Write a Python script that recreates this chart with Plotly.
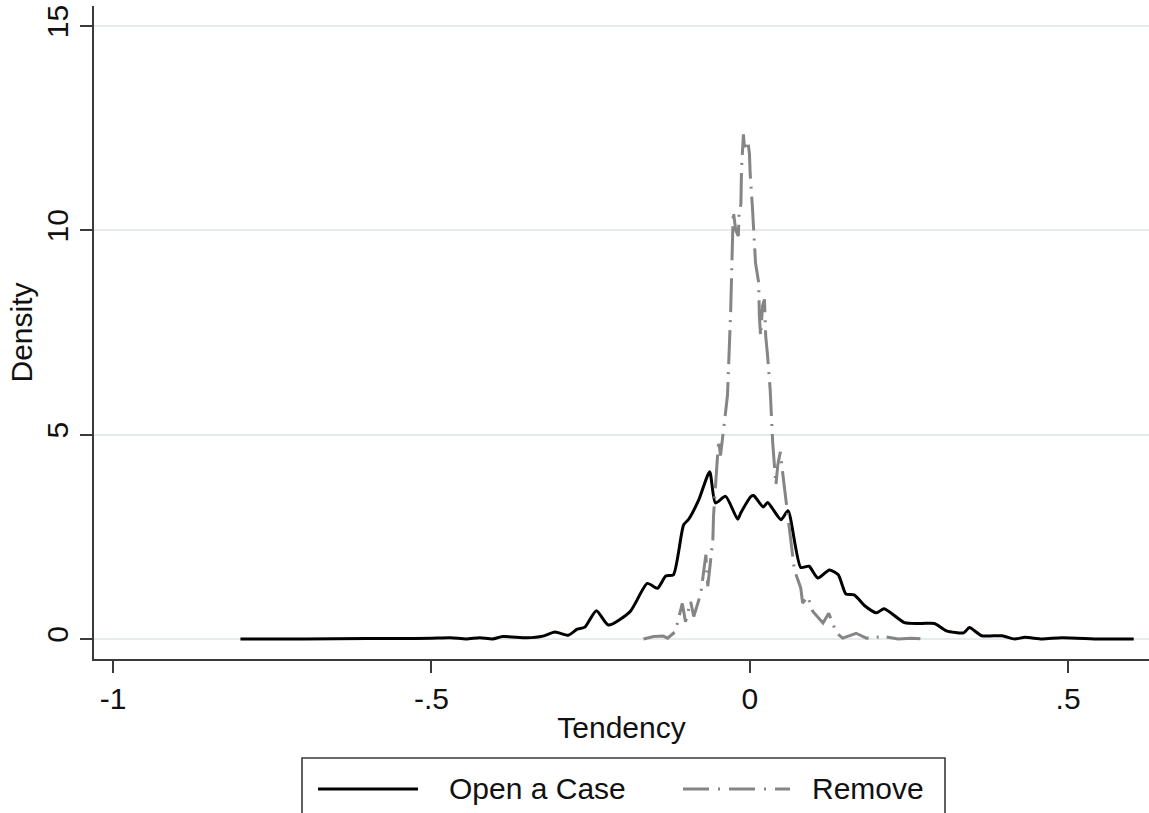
import plotly.graph_objects as go

# ---- data ----
open_x = [-0.800, -0.700, -0.600, -0.550, -0.500, -0.470, -0.445, -0.424, -0.404, -0.388,
          -0.350, -0.325, -0.306, -0.285, -0.271, -0.259, -0.241, -0.222, -0.188, -0.161,
          -0.145, -0.132, -0.120, -0.104, -0.096, -0.080, -0.063, -0.054, -0.038, -0.019,
          -0.014, 0.002, 0.006, 0.021, 0.028, 0.049, 0.060, 0.080, 0.093, 0.107,
          0.125, 0.139, 0.151, 0.164, 0.180, 0.199, 0.211, 0.243, 0.270, 0.290,
          0.309, 0.336, 0.345, 0.364, 0.396, 0.416, 0.432, 0.459, 0.490, 0.550,
          0.603]
open_y = [0.00, 0.00, 0.01, 0.01, 0.02, 0.03, 0.00, 0.03, 0.00, 0.06,
          0.03, 0.07, 0.17, 0.09, 0.24, 0.29, 0.69, 0.34, 0.67, 1.36,
          1.24, 1.54, 1.57, 2.79, 2.93, 3.41, 4.09, 3.33, 3.49, 2.93,
          3.09, 3.49, 3.51, 3.23, 3.34, 2.92, 3.14, 1.75, 1.78, 1.49,
          1.69, 1.57, 1.10, 1.08, 0.82, 0.64, 0.74, 0.40, 0.38, 0.38,
          0.20, 0.15, 0.28, 0.08, 0.08, 0.00, 0.04, 0.00, 0.03, 0.00,
          0.00]

remove_x = [-0.167, -0.151, -0.136, -0.129, -0.117, -0.106, -0.101, -0.093, -0.088, -0.077,
            -0.069, -0.066, -0.058, -0.057, -0.049, -0.046, -0.041, -0.035, -0.030, -0.027,
            -0.026, -0.022, -0.018, -0.017, -0.014, -0.013, -0.010, -0.008, -0.003, -0.0005,
            0.0005, 0.004, 0.009, 0.014, 0.015, 0.017, 0.020, 0.023, 0.025, 0.028,
            0.032, 0.036, 0.038, 0.041, 0.044, 0.048, 0.052, 0.059, 0.065, 0.070,
            0.080, 0.083, 0.091, 0.099, 0.115, 0.124, 0.130, 0.136, 0.146, 0.167,
            0.183, 0.211, 0.233, 0.254, 0.272]
remove_y = [0.00, 0.06, 0.07, 0.02, 0.18, 0.87, 0.42, 0.92, 0.55, 1.11,
            2.06, 1.29, 2.43, 3.00, 4.87, 4.49, 5.15, 5.97, 8.04, 9.45,
            10.47, 10.00, 9.86, 10.35, 10.64, 11.50, 12.35, 11.94, 12.19, 11.86,
            11.41, 10.60, 9.20, 8.72, 7.90, 7.41, 8.15, 8.31, 7.41, 6.92,
            6.10, 4.80, 4.26, 3.77, 4.26, 4.58, 4.02, 3.16, 2.43, 1.69,
            1.25, 0.88, 1.04, 0.67, 0.39, 0.63, 0.39, 0.15, 0.02, 0.14,
            0.02, 0.06, 0.00, 0.02, 0.00]

series_names = ["Open a Case", "Remove"]
x_ticks = [-1, -0.5, 0, 0.5]
x_tick_labels = ["-1", "-.5", "0", ".5"]
y_ticks = [0, 5, 10, 15]
y_tick_labels = ["0", "5", "10", "15"]
x_title = "Tendency"
y_title = "Density"

# ---- styling ----
FONT = "Liberation Sans, Arial, sans-serif"
FS = 30
W, H = 1149, 813
ML, MR, MT, MB = 94, 0, 6, 154
PW, PH = W - ML - MR, H - MT - MB
BLACK = "#000000"
GRAY = "#858585"
DASH = "34px,8px,2px,8px"

def px_x(p):
    return (p - ML) / PW

def px_y(p):
    return (H - MB - p) / PH

fig = go.Figure()
fig.add_trace(go.Scatter(x=open_x, y=open_y, mode="lines", name=series_names[0],
                         line=dict(color=BLACK, width=3, shape="spline", smoothing=0.6),
                         showlegend=False))
fig.add_trace(go.Scatter(x=remove_x, y=remove_y, mode="lines", name=series_names[1],
                         line=dict(color=GRAY, width=3, dash=DASH), showlegend=False))

axis_common = dict(showline=True, linecolor="#3a3a3a", linewidth=1.6,
                   ticks="outside", ticklen=12, tickwidth=1.6, tickcolor="#3a3a3a",
                   tickfont=dict(family=FONT, size=FS, color="#111"),
                   zeroline=False)
fig.update_xaxes(range=[-1.030, 0.627], tickvals=x_ticks, ticktext=x_tick_labels,
                 showgrid=False, title=dict(text=x_title, font=dict(family=FONT, size=FS, color="#111"),
                                            standoff=3),
                 **axis_common)
fig.update_yaxes(range=[-0.49, 15.49], tickvals=y_ticks, ticktext=y_tick_labels,
                 tickangle=-90, showgrid=True, gridcolor="#e3eded", gridwidth=2,
                 title=dict(text=y_title, font=dict(family=FONT, size=FS, color="#111"),
                            standoff=0),
                 **axis_common)

# ---- legend box drawn below the plot ----
shapes = [
    dict(type="rect", xref="paper", yref="paper",
         x0=px_x(302), x1=px_x(945), y0=px_y(758), y1=px_y(840),
         line=dict(color="#3a3a3a", width=1.6), fillcolor="white", layer="above"),
    dict(type="line", xref="paper", yref="paper",
         x0=px_x(318), x1=px_x(418), y0=px_y(789), y1=px_y(789),
         line=dict(color=BLACK, width=3)),
    dict(type="line", xref="paper", yref="paper",
         x0=px_x(683), x1=px_x(790), y0=px_y(789), y1=px_y(789),
         line=dict(color=GRAY, width=3, dash="26px,9px,2px,9px")),
]
annotations = [
    dict(xref="paper", yref="paper", x=px_x(447), y=px_y(789), text=series_names[0],
         showarrow=False, xanchor="left", yanchor="middle",
         font=dict(family=FONT, size=FS, color="#111")),
    dict(xref="paper", yref="paper", x=px_x(810), y=px_y(789), text=series_names[1],
         showarrow=False, xanchor="left", yanchor="middle",
         font=dict(family=FONT, size=FS, color="#111")),
]

fig.update_layout(width=W, height=H, margin=dict(l=ML, r=MR, t=MT, b=MB, autoexpand=False),
                  paper_bgcolor="white", plot_bgcolor="white",
                  shapes=shapes, annotations=annotations, showlegend=False)

fig.write_html("out.html")
